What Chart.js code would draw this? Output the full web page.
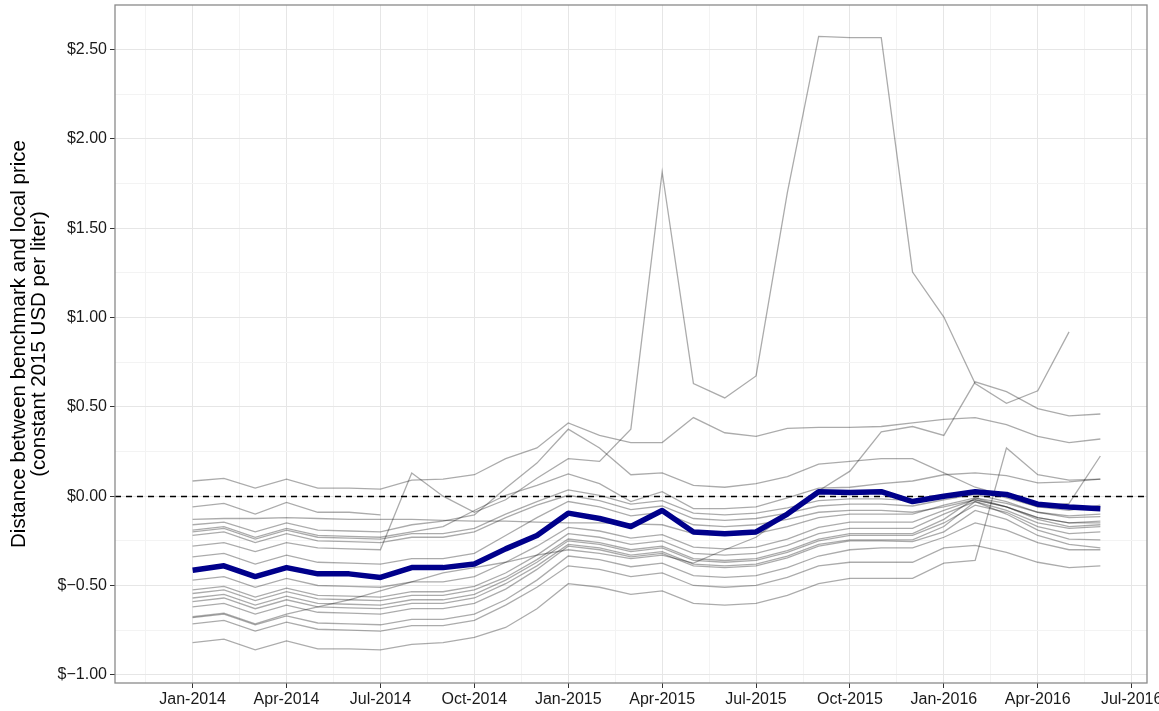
<!DOCTYPE html>
<html>
<head>
<meta charset="utf-8">
<script src="https://cdn.jsdelivr.net/npm/chart.js@4.4.1/dist/chart.umd.min.js"></script>
<style>
  html, body { margin: 0; padding: 0; background: #fff; overflow: hidden; }
  #wrap { position: relative; width: 1159px; height: 711px; }
</style>
</head>
<body>
<div id="wrap"><canvas id="chart"></canvas></div>
<script>
// months since Jan-2014 (0 = Jan-2014 ... 29 = Jun-2016)
const monthIndex = [0,1,2,3,4,5,6,7,8,9,10,11,12,13,14,15,16,17,18,19,20,21,22,23,24,25,26,27,28,29];
const xTickLabels = ['Jan-2014','Apr-2014','Jul-2014','Oct-2014','Jan-2015','Apr-2015','Jul-2015','Oct-2015','Jan-2016','Apr-2016','Jul-2016'];
const xTickValues = [-1.5,0,1.5,3,4.5,6,7.5,9,10.5,12,13.5,15,16.5,18,19.5,21,22.5,24,25.5,27,28.5,30];
const yTickValues = [-1,-0.75,-0.5,-0.25,0,0.25,0.5,0.75,1,1.25,1.5,1.75,2,2.25,2.5];
const zeroLine = 0;

// average across markets
const meanDistance = [-0.415,-0.39,-0.45,-0.40,-0.435,-0.435,-0.455,-0.40,-0.40,-0.38,-0.295,-0.22,
  -0.095,-0.125,-0.17,-0.08,-0.20,-0.21,-0.20,-0.10,0.025,0.02,0.025,-0.03,
  0.0,0.025,0.01,-0.045,-0.06,-0.07];

// individual markets
const mkA = [0.085,0.10,0.045,0.095,0.045,0.045,0.04,0.09,0.095,0.12,0.21,0.27,
  0.41,0.34,0.30,0.30,0.44,0.355,0.335,0.38,0.385,0.385,0.39,0.41,
  0.43,0.44,0.40,0.335,0.30,0.32];
const mkF = [-0.06,-0.04,-0.10,-0.035,-0.09,-0.09,-0.105,null,null,null,null,null,
  null,null,null,null,null,null,null,null,null,null,null,null,
  null,null,null,null,null,null];
const mkG = [-0.13,-0.125,-0.125,-0.12,-0.125,-0.13,-0.13,-0.13,-0.135,-0.14,-0.14,-0.145,
  -0.15,-0.15,-0.155,-0.16,-0.21,-0.22,-0.21,-0.17,-0.12,-0.10,-0.10,-0.10,
  -0.05,-0.01,-0.04,-0.09,-0.11,-0.10];
const mkH = [-0.16,-0.145,-0.20,-0.15,-0.19,-0.195,-0.20,-0.16,-0.14,-0.105,0.045,0.185,
  0.375,0.27,0.12,0.13,0.06,0.05,0.07,0.11,0.18,0.195,0.21,0.21,
  0.13,0.05,0.0,-0.06,-0.08,-0.05];
const mkD = [-0.19,-0.17,-0.23,-0.18,-0.22,-0.225,-0.23,-0.20,-0.17,-0.08,0.005,0.06,
  0.125,0.07,-0.03,0.025,-0.07,-0.07,-0.06,-0.01,0.045,0.05,0.07,0.085,
  0.12,0.13,0.115,0.075,0.08,0.095];
const mkE = [-0.20,-0.18,-0.24,-0.19,-0.23,-0.235,-0.24,-0.21,-0.21,-0.18,-0.10,-0.03,
  0.035,0.005,-0.045,-0.025,-0.095,-0.105,-0.095,-0.065,-0.025,-0.015,-0.015,-0.025,
  0.005,0.03,-0.01,-0.06,-0.04,0.225];
const mkU22 = [-0.22,-0.20,-0.26,-0.21,-0.25,-0.255,-0.26,-0.23,-0.23,-0.20,-0.12,-0.05,
  0.005,-0.025,-0.075,-0.055,-0.125,-0.135,-0.125,-0.095,-0.055,-0.045,-0.045,-0.055,
  -0.02,0.01,-0.03,-0.09,-0.12,-0.115];
const mkU34 = [-0.34,-0.32,-0.38,-0.33,-0.37,-0.375,-0.38,-0.35,-0.35,-0.32,-0.22,-0.12,
  -0.03,-0.06,-0.11,-0.09,-0.16,-0.17,-0.16,-0.13,-0.09,-0.08,-0.08,-0.09,
  -0.06,-0.02,-0.06,-0.12,-0.15,-0.15];
const mkSpike = [-0.28,-0.26,-0.31,-0.26,-0.29,-0.295,-0.30,0.13,0.0,-0.09,-0.02,0.10,
  0.21,0.195,0.375,1.815,0.63,0.55,0.673,1.70,2.574,2.567,2.567,1.255,
  1.003,0.63,0.52,0.59,0.92,null];
const mkB1 = [-0.47,-0.45,-0.51,-0.46,-0.50,-0.505,-0.51,-0.48,-0.48,-0.45,-0.37,-0.28,
  -0.175,-0.195,-0.235,-0.215,-0.285,-0.295,-0.285,-0.24,-0.175,-0.145,-0.145,-0.145,
  -0.08,-0.02,-0.06,-0.12,-0.15,-0.14];
const mkB2 = [-0.525,-0.505,-0.565,-0.515,-0.555,-0.56,-0.565,-0.535,-0.535,-0.505,-0.43,-0.33,
  -0.21,-0.23,-0.27,-0.25,-0.32,-0.33,-0.32,-0.275,-0.21,-0.18,-0.18,-0.18,
  -0.10,-0.03,-0.08,-0.15,-0.18,-0.17];
const mkB3 = [-0.545,-0.525,-0.585,-0.535,-0.575,-0.58,-0.585,-0.555,-0.555,-0.525,-0.455,-0.355,
  -0.24,-0.26,-0.30,-0.28,-0.35,-0.36,-0.35,-0.305,-0.24,-0.21,-0.21,-0.21,
  -0.13,-0.01,-0.06,-0.13,-0.17,-0.16];
const mkB4 = [-0.57,-0.55,-0.61,-0.56,-0.60,-0.605,-0.61,-0.58,-0.58,-0.55,-0.47,-0.37,
  -0.25,-0.27,-0.31,-0.29,-0.36,-0.37,-0.36,-0.315,-0.25,-0.22,-0.22,-0.22,
  -0.15,-0.05,-0.09,-0.17,-0.21,-0.20];
const mkB5 = [-0.59,-0.57,-0.63,-0.58,-0.62,-0.625,-0.63,-0.60,-0.60,-0.57,-0.49,-0.39,
  -0.27,-0.29,-0.33,-0.31,-0.38,-0.39,-0.38,-0.335,-0.27,-0.245,-0.245,-0.245,
  -0.17,-0.03,-0.10,-0.19,-0.24,-0.245];
const mkB6 = [-0.62,-0.60,-0.66,-0.61,-0.65,-0.655,-0.66,-0.63,-0.63,-0.60,-0.52,-0.41,
  -0.28,-0.30,-0.34,-0.32,-0.39,-0.40,-0.39,-0.345,-0.28,-0.25,-0.25,-0.255,
  -0.20,-0.08,-0.13,-0.22,-0.27,-0.29];
const mkB8 = [-0.68,-0.66,-0.72,-0.67,-0.71,-0.715,-0.72,-0.69,-0.69,-0.66,-0.58,-0.47,
  -0.335,-0.355,-0.395,-0.375,-0.445,-0.455,-0.445,-0.40,-0.335,-0.30,-0.29,-0.29,
  -0.23,-0.15,-0.19,-0.26,-0.30,-0.30];
const mkB9 = [-0.715,-0.695,-0.755,-0.705,-0.745,-0.75,-0.755,-0.725,-0.725,-0.695,-0.61,-0.51,
  -0.39,-0.41,-0.45,-0.43,-0.50,-0.51,-0.50,-0.455,-0.39,-0.37,-0.37,-0.37,
  -0.29,-0.275,-0.315,-0.37,-0.40,-0.39];
const mkBottom = [-0.82,-0.80,-0.86,-0.81,-0.855,-0.855,-0.86,-0.83,-0.82,-0.79,-0.735,-0.63,
  -0.49,-0.51,-0.55,-0.53,-0.60,-0.61,-0.60,-0.555,-0.49,-0.46,-0.46,-0.46,
  -0.375,-0.36,0.27,0.12,0.09,0.095];
const mkRiser = [-0.675,-0.655,-0.715,-0.66,-0.62,-0.58,-0.53,-0.48,-0.43,-0.40,-0.37,-0.33,
  -0.30,-0.32,-0.35,-0.33,-0.375,-0.30,-0.23,-0.10,0.03,0.14,0.36,0.39,
  0.34,0.64,0.585,0.49,0.45,0.46];

const markets = [mkA, mkF, mkG, mkH, mkD, mkE, mkU22, mkU34, mkSpike, mkB1, mkB2, mkB3,
  mkB4, mkB5, mkB6, mkB8, mkB9, mkBottom, mkRiser];

const toPoints = arr => arr.map((v, i) => ({ x: monthIndex[i], y: v }));
const isMajorY = v => Math.abs(v * 2 - Math.round(v * 2)) < 1e-6;
const isMajorX = v => Math.abs(v / 3 - Math.round(v / 3)) < 1e-6;
const fmtDollar = v => '$' + (v < 0 ? '\u2212' : '') + Math.abs(v).toFixed(2);

const panelPlugin = {
  id: 'panel',
  beforeDatasetDraw(chart, args) {
    if (args.index !== 0) return; // dashed zero line sits under the mean line
    const { ctx, chartArea: a, scales: { y } } = chart;
    const py = Math.round(y.getPixelForValue(zeroLine)) + 0.5;
    ctx.save();
    ctx.strokeStyle = '#000';
    ctx.lineWidth = 1.7;
    ctx.setLineDash([6, 5]);
    ctx.beginPath();
    ctx.moveTo(a.left, py);
    ctx.lineTo(a.right, py);
    ctx.stroke();
    ctx.restore();
  },
  afterDatasetsDraw(chart) {
    const { ctx, chartArea: a } = chart;
    ctx.save();
    ctx.strokeStyle = '#8a8a8a';
    ctx.lineWidth = 1.3;
    ctx.strokeRect(a.left, a.top, a.right - a.left, a.bottom - a.top);
    ctx.restore();
  }
};

const datasets = [{
  data: toPoints(meanDistance),
  borderColor: '#00008b',
  borderWidth: 5.5,
  borderJoinStyle: 'round',
  pointRadius: 0
}].concat(markets.map(m => ({
  data: toPoints(m),
  borderColor: 'rgba(0,0,0,0.33)',
  borderWidth: 1.3,
  pointRadius: 0
})));

const tickFont = { family: '"Liberation Sans", Arial, sans-serif', size: 16 };

new Chart(document.getElementById('chart'), {
  type: 'line',
  data: { datasets },
  plugins: [panelPlugin],
  options: {
    responsive: true,
    maintainAspectRatio: false,
    animation: false,
    spanGaps: false,
    layout: { padding: { left: 0, right: 12, top: 5, bottom: 0 } },
    elements: { line: { tension: 0, fill: false } },
    plugins: { legend: { display: false }, tooltip: { enabled: false } },
    scales: {
      x: {
        type: 'linear',
        min: -2.48,
        max: 30.49,
        afterBuildTicks: s => { s.ticks = xTickValues.map(v => ({ value: v })); },
        afterFit: s => { s.height = 28; s.paddingLeft = 0; s.paddingRight = 0; },
        border: { display: false },
        grid: {
          color: c => isMajorX(c.tick.value) ? '#e6e6e6' : '#f3f3f3',
          tickColor: c => isMajorX(c.tick.value) ? '#333' : 'rgba(0,0,0,0)',
          tickLength: 5,
          lineWidth: 1
        },
        ticks: {
          autoSkip: false,
          maxRotation: 0,
          padding: 2,
          color: '#1a1a1a',
          font: tickFont,
          callback: v => isMajorX(v) ? xTickLabels[Math.round(v / 3)] : ''
        }
      },
      y: {
        type: 'linear',
        min: -1.046,
        max: 2.75,
        afterBuildTicks: s => { s.ticks = yTickValues.map(v => ({ value: v })); },
        afterFit: s => { s.width = 115; s.paddingTop = 0; s.paddingBottom = 0; },
        border: { display: false },
        grid: {
          color: c => isMajorY(c.tick.value) ? '#e6e6e6' : '#f3f3f3',
          tickColor: c => isMajorY(c.tick.value) ? '#333' : 'rgba(0,0,0,0)',
          tickLength: 5,
          lineWidth: 1
        },
        ticks: {
          autoSkip: false,
          padding: 3,
          color: '#1a1a1a',
          font: tickFont,
          callback: v => isMajorY(v) ? fmtDollar(v) : ''
        },
        title: {
          display: true,
          text: ['Distance between benchmark and local price', '(constant 2015 USD per liter)'],
          color: '#000',
          font: { family: '"Liberation Sans", Arial, sans-serif', size: 20.5, lineHeight: 1.0 },
          padding: { top: 9, bottom: 0 }
        }
      }
    }
  }
});
</script>
</body>
</html>
